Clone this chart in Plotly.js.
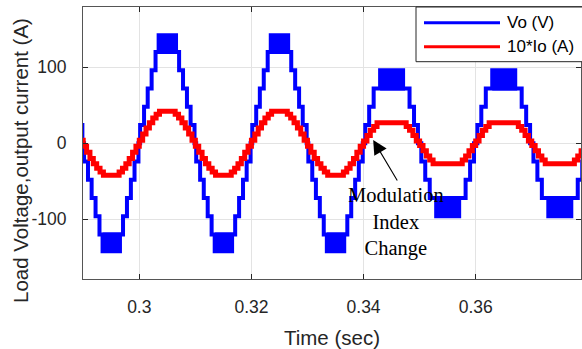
<!DOCTYPE html>
<html>
<head>
<meta charset="utf-8">
<script src="https://cdn.plot.ly/plotly-3.0.1.min.js"></script>
<style>
  html, body { margin: 0; padding: 0; background: #fff; }
  #chart { width: 582px; height: 349px; }
</style>
</head>
<body>
<div id="chart"></div>
<script>
// ---------- DATA ----------
// Half-cycles of the 50 Hz output: zero-crossing time (ms), polarity, modulation pattern
const halfStart = [280, 290, 300, 310, 320, 330, 340, 350, 360, 370];
const halfSign  = [1, -1, 1, -1, 1, -1, 1, -1, 1, -1];
const halfMode  = ['A', 'A', 'A', 'A', 'A', 'A', 'B', 'B', 'B', 'B'];

// Output voltage Vo (V): staircase levels within one half-cycle, offsets in ms
// Pattern A = before the modulation index change, pattern B = after it
const vOffsetA = [0, 0.15, 0.85, 1.5, 2.2, 2.9, 7.1, 7.8, 8.5, 9.15, 9.85];
const vLevelA  = [0, 24, 48, 72, 96, 120, 96, 72, 48, 24, 0];
const vOffsetB = [0, 0.3, 1.0, 1.8, 8.2, 9.0, 9.7];
const vLevelB  = [0, 24, 48, 72, 48, 24, 0];
// PWM switching band at the top level: time span (ms offset) and level pair (V)
const pwmSpanA  = [3.45, 6.55];
const pwmLevelA = [120, 142];
const pwmSpanB  = [2.95, 7.05];
const pwmLevelB = [72, 96];

// Output current 10*Io (A): samples within one half-cycle, offsets in ms
const iOffsetA = [0, 0.6, 1.2, 1.8, 2.4, 3.0, 3.6, 6.4, 7.0, 7.6, 8.2, 8.8, 9.4];
const iValueA  = [4, 12, 20, 27, 33, 38, 42, 38, 33, 27, 20, 12, 4];
const iOffsetB = [0, 0.6, 1.2, 1.8, 2.4, 7.6, 8.2, 8.8, 9.4];
const iValueB  = [3, 10, 17, 22, 27, 22, 17, 10, 3];

// Axis ticks
const yTickVals = [-100, 0, 100];
const yTickText = ['-100', '0', '100'];
const xTickVals = [0.3, 0.32, 0.34, 0.36];
const xTickText = ['0.3', '0.32', '0.34', '0.36'];

const seriesNames = ['Vo (V)', '10*Io (A)'];

// ---------- BUILD TRACES ----------
const vx = [], vy = [], px = [], py = [], ix = [], iy = [];
halfStart.forEach((t0, k) => {
  const s = halfSign[k];
  const A = halfMode[k] === 'A';
  const vo = A ? vOffsetA : vOffsetB, vl = A ? vLevelA : vLevelB;
  vo.forEach((o, j) => { vx.push((t0 + o) / 1000); vy.push(s * vl[j]); });
  const sp = A ? pwmSpanA : pwmSpanB, lv = A ? pwmLevelA : pwmLevelB;
  const xs = [sp[0], sp[1], sp[1], sp[0], sp[0]];
  const ys = [lv[0], lv[0], lv[1], lv[1], lv[0]];
  xs.forEach((o, j) => { px.push((t0 + o) / 1000); py.push(s * ys[j]); });
  px.push(null); py.push(null);
  const io = A ? iOffsetA : iOffsetB, iv = A ? iValueA : iValueB;
  io.forEach((o, j) => { ix.push((t0 + o) / 1000); iy.push(s * iv[j]); });
});
// close the last step
vx.push((halfStart[halfStart.length - 1] + 10) / 1000); vy.push(0);
ix.push((halfStart[halfStart.length - 1] + 10) / 1000); iy.push(iy[iy.length - 1]);

const BLUE = '#0000ff', RED = '#ff0000';
const traces = [
  { x: vx, y: vy, type: 'scatter', mode: 'lines', name: seriesNames[0],
    line: { color: BLUE, width: 4, shape: 'hv' }, showlegend: false, hoverinfo: 'skip' },
  { x: px, y: py, type: 'scatter', mode: 'lines', name: seriesNames[0] + ' PWM',
    fill: 'toself', fillcolor: BLUE, line: { color: BLUE, width: 4 },
    showlegend: false, hoverinfo: 'skip' },
  { x: ix, y: iy, type: 'scatter', mode: 'lines', name: seriesNames[1],
    line: { color: RED, width: 5, shape: 'hv' }, showlegend: false, hoverinfo: 'skip' }
];

// ---------- LAYOUT ----------
const W = 582, H = 349, L = 83, R = 1, T = 7, B = 70;
const pw = W - L - R, ph = H - T - B;
const pxX = p => (p - L) / pw;        // page px -> paper x
const pxY = p => (H - B - p) / ph;    // page px -> paper y
const axisFont = { family: 'Liberation Sans, Arial, sans-serif', size: 17.5, color: '#262626' };

const layout = {
  width: W, height: H,
  margin: { l: L, r: R, t: T, b: B, pad: 0 },
  paper_bgcolor: '#ffffff', plot_bgcolor: '#ffffff',
  showlegend: false,
  xaxis: {
    range: [0.28996, 0.37878], tickmode: 'array', tickvals: xTickVals, ticktext: xTickText,
    ticks: 'inside', ticklen: 5, tickwidth: 1.2, tickcolor: '#262626',
    showline: true, linecolor: '#555555', linewidth: 1, mirror: 'ticks',
    showgrid: true, gridcolor: '#e3e3e3', gridwidth: 1, zeroline: false,
    tickfont: axisFont, ticklabelstandoff: 12,
    title: { text: 'Time (sec)', font: { family: 'Liberation Sans, Arial, sans-serif', size: 20.5, color: '#262626' }, standoff: 19 }
  },
  yaxis: {
    range: [-178.5, 179], tickmode: 'array', tickvals: yTickVals, ticktext: yTickText,
    ticks: 'inside', ticklen: 5, tickwidth: 1.2, tickcolor: '#262626',
    showline: true, linecolor: '#555555', linewidth: 1, mirror: 'ticks',
    showgrid: true, gridcolor: '#e3e3e3', gridwidth: 1, zeroline: false,
    tickfont: axisFont, ticklabelstandoff: 12
  },
  shapes: [
    { type: 'rect', xref: 'paper', yref: 'paper', x0: pxX(416), x1: pxX(590), y0: pxY(61.7), y1: 1,
      fillcolor: '#ffffff', line: { color: '#262626', width: 1 }, layer: 'above' },
    { type: 'line', xref: 'paper', yref: 'paper', x0: pxX(424), x1: pxX(500), y0: pxY(22.7), y1: pxY(22.7),
      line: { color: BLUE, width: 3 } },
    { type: 'line', xref: 'paper', yref: 'paper', x0: pxX(424), x1: pxX(500), y0: pxY(46.7), y1: pxY(46.7),
      line: { color: RED, width: 3 } }
  ],
  annotations: [
    { text: seriesNames[0], xref: 'paper', yref: 'paper', x: pxX(505), y: pxY(22.7),
      xanchor: 'left', yanchor: 'middle', showarrow: false,
      font: { family: 'Liberation Sans, Arial, sans-serif', size: 17, color: '#000' } },
    { text: seriesNames[1], xref: 'paper', yref: 'paper', x: pxX(505), y: pxY(46.7),
      xanchor: 'left', yanchor: 'middle', showarrow: false,
      font: { family: 'Liberation Sans, Arial, sans-serif', size: 17, color: '#000' } },
    { text: 'Load Voltage,output current (A)', xref: 'paper', yref: 'paper',
      x: pxX(20), y: pxY(161), xanchor: 'center', yanchor: 'middle', textangle: -90, showarrow: false,
      font: { family: 'Liberation Sans, Arial, sans-serif', size: 20.5, color: '#262626' } },
    { text: '', x: 0.34171, y: 4.3, xref: 'x', yref: 'y', showarrow: true,
      ax: 25, ay: 42, arrowhead: 2, arrowsize: 2.6, arrowwidth: 1.1, arrowcolor: '#000', standoff: 0 },
    { text: 'Modulation<br>Index<br>Change', x: 0.34578, y: -103.3, xref: 'x', yref: 'y',
      xanchor: 'center', yanchor: 'middle', showarrow: false,
      font: { family: 'Liberation Serif, Times New Roman, serif', size: 20.5, color: '#000' } }
  ]
};

Plotly.newPlot('chart', traces, layout, { staticPlot: true, displayModeBar: false });
</script>
</body>
</html>
